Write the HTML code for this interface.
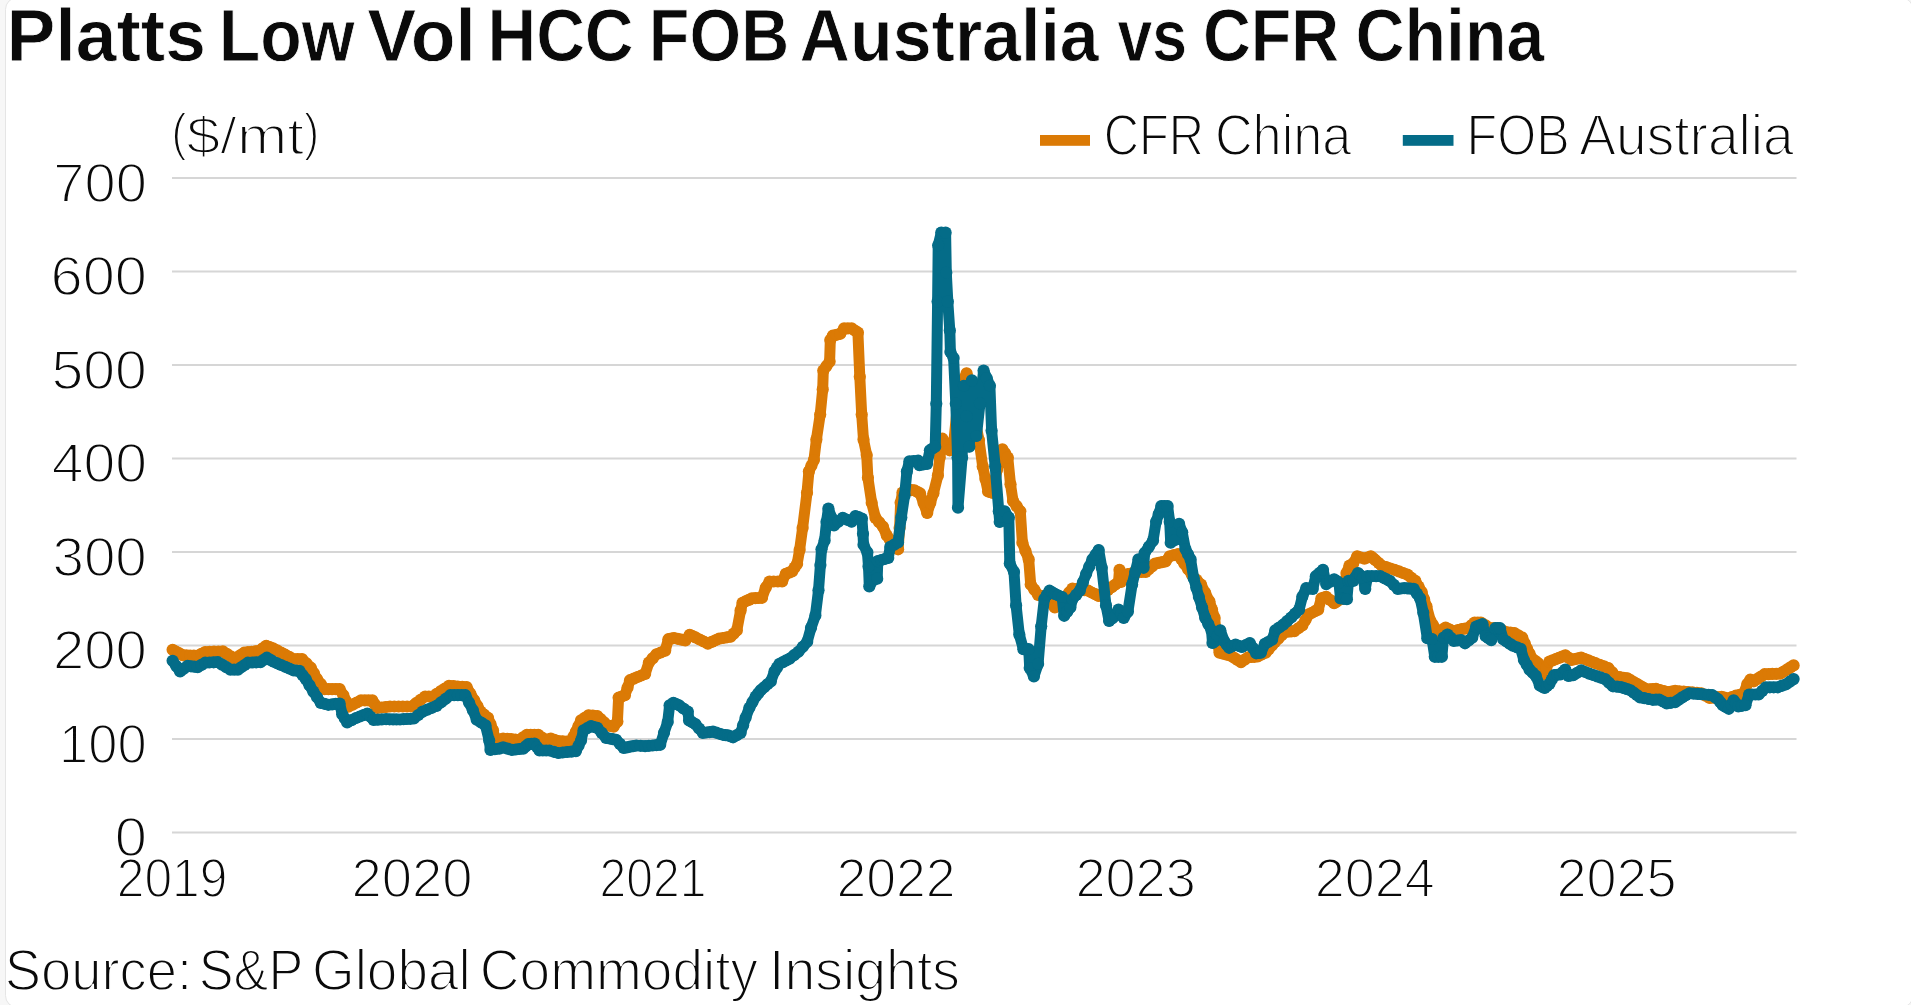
<!DOCTYPE html>
<html lang="en"><head><meta charset="utf-8"><title>Platts Low Vol HCC FOB Australia vs CFR China</title>
<style>
html,body{margin:0;padding:0;background:#fff;overflow:hidden}
svg{display:block}
text{font-family:"Liberation Sans",sans-serif;fill:#0a0a0a;stroke:#fff;paint-order:fill stroke}
text.l{font-weight:400;stroke-width:1.8px}
text.b{font-weight:700;stroke-width:0.8px}
</style></head><body>
<svg width="1911" height="1005" viewBox="0 0 1911 1005">
<rect x="0" y="0" width="1911" height="1005" fill="#f7f7f7"/>
<rect x="5.5" y="-2.5" width="1907.5" height="1010" rx="12" ry="12" fill="#ffffff" stroke="#e5e5e5" stroke-width="1"/>
<line x1="172" x2="1796.5" y1="177.9" y2="177.9" stroke="#d6d6d6" stroke-width="2"/>
<line x1="172" x2="1796.5" y1="271.4" y2="271.4" stroke="#d6d6d6" stroke-width="2"/>
<line x1="172" x2="1796.5" y1="364.9" y2="364.9" stroke="#d6d6d6" stroke-width="2"/>
<line x1="172" x2="1796.5" y1="458.4" y2="458.4" stroke="#d6d6d6" stroke-width="2"/>
<line x1="172" x2="1796.5" y1="551.9" y2="551.9" stroke="#d6d6d6" stroke-width="2"/>
<line x1="172" x2="1796.5" y1="645.4" y2="645.4" stroke="#d6d6d6" stroke-width="2"/>
<line x1="172" x2="1796.5" y1="738.9" y2="738.9" stroke="#d6d6d6" stroke-width="2"/>
<line x1="172" x2="1796.5" y1="832.4" y2="832.4" stroke="#d6d6d6" stroke-width="2"/>
<defs><marker id="mo" markerUnits="userSpaceOnUse" markerWidth="14" markerHeight="14" refX="7" refY="7" viewBox="0 0 14 14"><circle cx="7" cy="7" r="6.1" fill="#DB7A05"/></marker><marker id="mt" markerUnits="userSpaceOnUse" markerWidth="14" markerHeight="14" refX="7" refY="7" viewBox="0 0 14 14"><circle cx="7" cy="7" r="6.1" fill="#046C88"/></marker></defs>
<path d="M172.6,649.8 L175.9,651.6 L179.3,653.4 L182.6,655.2 L186.4,655.4 L190.1,655.5 L193.9,655.6 L197.7,655.8 L201.4,653.9 L205.2,652.0 L209.6,651.9 L214.0,651.7 L218.4,651.5 L222.8,651.4 L226.8,653.9 L230.7,656.4 L234.7,658.9 L237.9,656.8 L241.0,654.8 L244.2,652.7 L247.9,652.2 L251.7,651.8 L255.4,651.3 L259.2,650.8 L262.7,648.3 L266.2,645.8 L269.6,647.0 L273.0,648.3 L277.0,650.4 L281.1,652.6 L285.1,654.7 L289.2,656.9 L293.2,659.0 L297.6,659.0 L302.0,659.0 L306.4,663.4 L310.8,667.7 L313.9,673.4 L317.0,679.0 L320.8,684.0 L324.6,689.1 L328.4,689.1 L332.1,689.1 L335.9,689.1 L339.6,689.1 L343.4,695.4 L345.9,701.0 L348.4,706.7 L352.6,704.6 L356.8,702.5 L361.0,700.4 L364.8,700.4 L368.5,700.4 L372.3,700.4 L374.8,704.2 L377.3,708.0 L381.5,707.5 L385.8,707.0 L390.0,706.5 L394.3,706.5 L398.6,706.5 L402.8,706.5 L407.1,706.5 L411.4,706.5 L416.0,703.2 L420.6,699.8 L425.2,696.5 L428.9,696.5 L432.7,696.5 L436.8,693.8 L440.9,691.1 L444.9,688.5 L449.0,685.8 L453.4,686.1 L457.8,686.5 L462.2,686.8 L466.6,687.1 L470.4,693.7 L474.2,700.3 L477.4,706.0 L480.5,711.6 L484.2,714.7 L488.0,717.8 L490.5,724.1 L493.0,730.4 L495.5,740.5 L499.3,739.5 L503.1,738.6 L507.2,738.9 L511.2,739.2 L515.3,739.5 L519.4,739.8 L523.1,737.3 L526.9,734.8 L530.7,734.8 L534.4,734.8 L538.2,734.8 L542.0,737.6 L545.8,740.5 L548.3,739.5 L550.8,738.6 L554.5,739.9 L558.3,741.1 L562.5,741.3 L566.7,741.5 L570.9,741.7 L573.4,736.7 L575.9,731.7 L578.5,726.0 L581.0,720.4 L584.8,717.8 L588.5,715.3 L592.9,715.6 L597.3,716.0 L600.6,719.1 L604.0,722.3 L607.3,725.4 L610.5,726.0 L613.6,726.6 L617.4,721.6 L618.6,697.7 L621.8,696.5 L624.9,695.2 L627.5,687.7 L630.0,680.2 L633.8,678.6 L637.5,677.0 L641.3,675.5 L645.1,673.9 L648.9,662.5 L652.6,658.4 L656.4,654.3 L660.8,652.5 L665.2,650.6 L668.4,639.2 L671.2,638.6 L674.0,638.0 L677.8,638.8 L681.5,639.7 L685.3,640.5 L689.7,634.8 L692.5,636.1 L695.4,637.4 L699.6,639.5 L703.7,641.5 L707.9,643.6 L711.7,641.9 L715.4,640.3 L719.2,638.6 L723.0,638.0 L726.8,637.3 L730.6,636.7 L733.7,633.6 L736.8,630.5 L740.6,610.4 L742.5,602.8 L745.6,601.3 L748.8,599.9 L751.9,598.4 L755.3,598.2 L758.6,598.0 L762.0,597.8 L765.7,587.7 L769.5,581.5 L773.7,581.5 L777.9,581.5 L782.1,581.5 L785.8,573.9 L789.0,572.6 L792.1,571.4 L794.6,567.6 L797.1,563.9 L799.6,550.1 L802.6,528.0 L807.0,492.8 L808.9,471.4 L811.4,465.8 L813.9,460.1 L816.4,439.6 L820.2,414.5 L822.7,389.4 L823.3,370.5 L826.5,366.1 L829.6,361.7 L830.3,340.1 L832.8,335.7 L836.5,334.8 L840.3,333.8 L844.1,328.4 L847.9,328.4 L851.6,328.4 L854.8,330.5 L857.9,332.6 L859.8,376.8 L861.7,414.5 L863.5,439.6 L866.7,455.1 L867.9,477.7 L871.7,502.8 L875.5,517.9 L879.2,522.3 L883.0,526.7 L886.8,535.5 L890.0,539.9 L893.1,544.3 L895.6,546.8 L898.1,549.3 L899.6,528.0 L900.6,502.8 L902.5,492.5 L905.2,491.2 L908.0,490.0 L911.2,490.1 L914.4,490.3 L917.2,491.8 L920.0,493.3 L923.6,503.1 L927.2,513.0 L930.3,503.1 L933.4,493.3 L937.9,475.4 L939.7,457.5 L942.4,438.7 L946.0,444.5 L949.6,450.3 L954.0,440.0 L957.0,410.0 L961.0,385.0 L963.8,379.1 L966.6,373.3 L970.0,385.0 L972.5,402.5 L975.0,420.0 L979.0,440.0 L982.7,466.4 L985.4,478.9 L988.1,491.5 L990.5,492.2 L993.0,493.0 L997.0,470.0 L999.7,459.7 L1002.4,449.4 L1005.1,453.4 L1007.8,457.5 L1010.5,484.3 L1013.0,500.9 L1016.6,506.1 L1020.3,511.3 L1022.4,542.7 L1025.5,551.0 L1028.7,559.4 L1030.7,584.5 L1034.4,589.7 L1038.1,594.9 L1042.0,596.0 L1046.0,597.0 L1050.4,602.2 L1054.8,607.5 L1058.9,603.8 L1063.0,600.0 L1066.2,596.2 L1069.3,592.4 L1072.5,588.6 L1076.4,589.1 L1080.3,589.7 L1084.3,590.2 L1088.2,590.7 L1091.7,592.5 L1095.2,594.2 L1098.7,596.0 L1101.8,594.0 L1104.9,592.0 L1108.0,590.0 L1111.7,587.2 L1115.4,584.5 L1118.5,582.0 L1119.5,569.8 L1121.0,582.0 L1124.5,578.0 L1127.9,574.0 L1132.5,573.0 L1137.0,572.0 L1141.3,572.0 L1145.7,571.9 L1148.8,569.1 L1152.0,566.4 L1155.1,563.6 L1158.6,562.9 L1162.0,562.2 L1165.5,561.5 L1169.7,556.3 L1173.8,555.2 L1178.0,554.2 L1181.2,558.9 L1184.3,563.6 L1188.2,569.3 L1192.0,575.0 L1196.5,579.8 L1201.0,584.5 L1205.2,592.9 L1209.4,601.2 L1212.0,609.5 L1214.6,617.9 L1216.7,638.8 L1219.5,652.6 L1223.2,653.6 L1227.0,654.7 L1230.7,655.7 L1234.1,657.8 L1237.6,660.0 L1241.0,662.1 L1244.6,659.7 L1248.2,657.3 L1251.4,657.0 L1254.5,656.8 L1257.7,656.5 L1261.7,654.5 L1265.7,652.6 L1268.8,649.1 L1271.9,645.5 L1275.0,642.0 L1278.3,638.6 L1281.5,635.3 L1284.8,631.9 L1288.0,631.6 L1291.2,631.4 L1294.4,631.1 L1298.3,628.3 L1302.3,625.5 L1305.5,620.0 L1308.7,614.4 L1311.9,612.8 L1315.0,611.2 L1318.2,609.6 L1321.4,598.4 L1323.8,597.6 L1326.2,596.8 L1330.2,600.0 L1334.1,603.2 L1336.5,601.6 L1338.9,600.0 L1341.7,596.0 L1344.5,592.0 L1346.5,573.0 L1349.5,565.5 L1353.2,563.4 L1357.2,556.3 L1360.8,557.5 L1364.4,558.6 L1367.6,557.5 L1370.8,556.3 L1373.2,558.2 L1375.5,560.2 L1378.7,563.0 L1381.9,565.8 L1386.1,567.1 L1390.4,568.5 L1394.6,569.8 L1398.9,571.4 L1403.1,573.0 L1407.4,574.6 L1411.3,577.8 L1415.3,580.9 L1418.5,586.5 L1421.7,592.1 L1424.1,599.2 L1426.5,606.4 L1430.4,620.7 L1432.8,624.7 L1435.2,628.7 L1439.2,631.9 L1442.4,629.8 L1445.6,627.6 L1449.8,629.5 L1453.9,631.4 L1457.8,630.2 L1461.8,629.0 L1465.0,628.6 L1468.2,628.2 L1471.4,625.4 L1474.6,622.6 L1477.8,622.6 L1480.9,622.6 L1485.5,625.3 L1490.0,628.0 L1494.0,628.2 L1498.0,628.5 L1502.2,630.4 L1506.4,632.2 L1510.4,632.6 L1514.4,633.0 L1518.3,635.4 L1522.3,637.7 L1524.7,643.3 L1527.1,648.9 L1529.5,653.6 L1531.9,658.4 L1535.1,660.8 L1538.2,663.2 L1540.6,668.8 L1543.0,674.4 L1546.2,668.0 L1549.4,661.6 L1552.6,660.4 L1555.7,659.2 L1558.9,657.9 L1562.1,656.6 L1565.3,655.3 L1568.4,657.6 L1571.6,660.0 L1574.8,659.2 L1578.0,658.4 L1581.2,657.6 L1584.8,659.0 L1588.3,660.4 L1591.9,661.8 L1595.5,663.2 L1599.8,664.8 L1604.0,666.4 L1608.3,668.0 L1612.2,672.4 L1616.2,676.7 L1619.9,677.2 L1623.7,677.8 L1627.4,678.3 L1630.6,680.2 L1633.7,682.0 L1636.9,683.9 L1640.1,685.8 L1643.3,687.6 L1646.5,689.5 L1649.7,689.3 L1652.8,689.1 L1656.0,688.9 L1660.0,690.0 L1663.9,691.0 L1667.9,692.1 L1671.5,691.5 L1675.1,690.9 L1679.4,691.3 L1683.7,691.6 L1688.0,692.0 L1692.4,692.4 L1696.9,692.9 L1701.3,693.3 L1705.5,695.6 L1709.7,698.0 L1713.7,697.6 L1717.6,697.2 L1721.6,696.8 L1724.6,697.7 L1727.6,698.6 L1731.8,697.1 L1735.9,695.6 L1739.7,694.8 L1743.5,694.0 L1747.3,684.0 L1750.3,679.7 L1753.8,681.3 L1757.4,678.9 L1761.0,676.6 L1764.6,674.2 L1768.5,674.1 L1772.3,673.9 L1776.2,673.8 L1780.1,673.6 L1783.7,671.5 L1787.3,669.4 L1790.4,667.4 L1793.6,665.4" fill="none" stroke="#DB7A05" stroke-width="11" stroke-linejoin="round" stroke-linecap="round" marker-start="url(#mo)" marker-mid="url(#mo)" marker-end="url(#mo)"/>
<path d="M172.6,660.8 L176.3,666.1 L180.1,671.5 L183.8,668.7 L187.6,665.9 L191.0,666.3 L194.3,666.7 L197.7,667.1 L201.4,664.9 L205.2,662.7 L209.4,662.5 L213.6,662.3 L217.8,662.1 L222.0,664.6 L226.2,667.1 L230.4,669.6 L234.2,669.6 L237.9,669.6 L241.2,667.3 L244.6,665.0 L247.9,662.7 L252.1,662.5 L256.3,662.3 L260.5,662.1 L263.6,659.9 L266.8,657.7 L270.0,659.6 L273.1,661.5 L277.1,663.3 L281.1,665.0 L285.2,666.8 L289.2,668.5 L293.2,670.3 L296.3,670.6 L299.4,670.9 L302.5,675.0 L305.7,679.0 L309.5,685.3 L313.3,691.6 L317.1,697.2 L320.8,702.9 L324.6,703.8 L328.3,704.8 L332.1,704.4 L335.8,703.9 L339.6,703.5 L342.2,714.2 L344.7,718.3 L347.2,722.4 L351.6,720.2 L356.0,718.0 L359.8,716.5 L363.5,715.1 L367.3,713.6 L370.5,716.8 L373.6,719.9 L377.8,719.7 L381.9,719.4 L386.1,719.2 L389.6,719.3 L393.1,719.4 L396.5,719.4 L400.0,719.5 L403.5,719.2 L406.9,719.0 L410.4,718.8 L413.9,718.5 L418.3,715.0 L422.7,711.6 L427.3,709.7 L431.9,707.8 L436.5,705.9 L441.1,702.3 L445.7,698.8 L450.3,695.2 L454.1,695.2 L457.9,695.2 L461.6,695.2 L465.4,695.2 L469.1,702.8 L472.9,710.3 L476.7,719.7 L481.1,722.5 L485.5,725.4 L489.2,740.5 L490.5,749.9 L494.9,749.2 L499.3,748.6 L503.1,747.4 L507.5,748.6 L511.9,749.9 L515.7,749.5 L519.4,749.0 L523.2,748.6 L525.7,746.4 L528.2,744.2 L531.4,743.9 L534.5,743.6 L537.0,747.0 L539.5,750.5 L542.8,750.5 L546.2,750.5 L549.5,750.5 L553.9,751.8 L558.3,753.0 L562.7,752.5 L567.1,752.0 L571.5,751.6 L575.9,751.1 L578.5,745.8 L581.0,740.5 L583.5,730.4 L587.2,728.2 L591.0,726.0 L594.1,727.0 L597.3,727.9 L601.7,732.9 L606.1,737.9 L609.4,738.5 L612.8,739.2 L616.1,739.8 L619.9,743.9 L623.7,748.0 L626.9,747.4 L630.0,746.7 L633.1,746.1 L636.3,745.5 L640.7,745.8 L645.1,746.1 L648.9,745.8 L652.7,745.5 L656.4,745.1 L660.2,744.8 L664.0,732.9 L667.7,722.0 L669.6,705.3 L673.4,702.8 L676.2,704.0 L679.0,705.3 L683.4,708.5 L687.8,711.6 L689.1,720.4 L692.2,722.2 L695.4,724.1 L699.1,728.5 L702.9,732.9 L706.3,732.5 L709.6,732.1 L713.0,731.7 L716.3,732.7 L719.7,733.8 L723.0,734.8 L725.5,735.1 L728.0,735.4 L730.5,736.3 L733.1,737.3 L736.9,735.1 L740.6,732.9 L743.1,725.3 L745.6,717.8 L749.4,707.8 L752.5,702.1 L755.7,696.5 L758.2,693.4 L760.7,690.2 L764.1,687.3 L767.4,684.3 L770.8,681.4 L774.5,671.4 L777.0,667.6 L779.5,663.8 L782.9,662.1 L786.2,660.4 L789.6,658.7 L794.0,655.2 L798.4,651.8 L802.8,646.8 L807.2,641.8 L811.0,627.9 L815.4,615.4 L818.5,590.3 L820.4,565.1 L821.5,549.3 L824.6,540.5 L826.5,521.7 L828.4,508.5 L831.2,517.0 L834.0,525.4 L838.4,521.6 L842.8,517.9 L847.2,519.8 L851.6,521.7 L855.4,516.0 L858.6,517.2 L861.9,518.5 L863.0,533.8 L863.5,544.7 L867.4,552.4 L868.5,566.6 L869.3,586.5 L872.8,580.5 L877.2,578.7 L877.8,561.1 L881.3,560.0 L884.7,559.0 L888.2,557.9 L890.3,546.9 L894.1,544.7 L898.0,542.5 L901.3,517.4 L904.6,495.5 L906.9,471.4 L909.4,461.4 L913.8,461.0 L918.2,460.7 L919.4,465.1 L923.2,464.5 L927.0,463.9 L929.9,450.3 L932.5,448.5 L935.2,446.7 L936.3,403.7 L937.6,301.6 L938.2,245.3 L941.3,232.6 L945.6,232.6 L946.3,272.7 L947.8,301.6 L949.8,330.4 L950.4,352.0 L953.6,358.0 L955.8,403.7 L957.6,457.5 L958.0,507.6 L962.1,457.5 L963.9,385.8 L966.6,416.2 L969.3,446.7 L971.9,380.4 L976.4,436.0 L980.0,403.3 L983.6,370.6 L986.8,378.2 L989.9,385.8 L991.6,430.6 L995.2,466.4 L998.8,511.2 L999.7,522.0 L1002.2,516.6 L1004.6,511.3 L1008.8,517.6 L1009.8,563.6 L1014.0,571.9 L1016.1,605.4 L1019.3,634.6 L1023.4,649.2 L1026.0,649.2 L1028.7,649.2 L1029.7,668.0 L1033.9,676.4 L1038.1,663.9 L1041.2,626.3 L1044.3,599.1 L1046.9,594.9 L1049.5,590.7 L1052.2,592.3 L1054.8,593.9 L1058.4,595.5 L1062.1,597.0 L1064.2,615.8 L1067.3,611.6 L1070.4,607.5 L1072.5,599.1 L1076.2,594.9 L1079.8,590.7 L1082.9,582.4 L1086.1,574.0 L1089.2,566.7 L1092.4,559.4 L1095.6,554.7 L1098.7,550.0 L1101.8,567.8 L1106.0,605.4 L1109.1,621.0 L1112.2,618.4 L1115.4,615.8 L1118.5,609.5 L1121.1,613.7 L1123.7,617.9 L1127.9,611.6 L1132.1,584.5 L1135.2,572.0 L1138.4,559.4 L1141.0,563.6 L1143.6,567.8 L1144.6,553.1 L1148.8,546.9 L1153.0,540.6 L1156.1,521.8 L1158.7,514.0 L1161.3,506.1 L1164.4,506.1 L1167.6,506.1 L1169.7,521.8 L1170.7,542.7 L1175.0,540.0 L1179.1,523.9 L1182.2,532.2 L1185.4,549.0 L1188.0,554.2 L1190.6,559.4 L1193.7,578.2 L1196.3,587.6 L1198.9,597.0 L1202.1,607.5 L1205.2,617.9 L1208.3,624.1 L1211.5,630.4 L1212.5,643.0 L1214.8,641.4 L1217.5,635.8 L1220.3,630.3 L1224.3,641.4 L1226.7,644.6 L1229.1,647.8 L1232.3,646.2 L1235.5,644.6 L1238.7,645.8 L1241.8,647.0 L1245.8,645.0 L1249.8,643.0 L1253.0,648.1 L1256.2,653.3 L1258.6,653.0 L1260.9,652.6 L1264.9,643.8 L1268.5,641.8 L1272.1,639.8 L1275.3,630.3 L1279.2,627.5 L1283.2,624.7 L1287.2,621.1 L1291.2,617.5 L1295.2,613.5 L1299.1,609.6 L1302.3,596.8 L1306.3,588.1 L1309.5,588.5 L1312.7,588.9 L1315.8,576.2 L1319.4,573.0 L1323.0,569.8 L1326.2,584.1 L1330.2,581.7 L1334.1,579.3 L1336.5,580.9 L1338.9,582.5 L1340.5,598.4 L1343.7,598.8 L1346.9,599.2 L1348.5,580.9 L1350.8,580.9 L1353.2,580.9 L1355.6,577.0 L1358.0,573.0 L1360.4,575.4 L1362.8,577.7 L1365.2,588.9 L1367.6,576.2 L1371.8,576.2 L1376.1,576.2 L1380.3,576.2 L1383.5,577.8 L1386.6,579.3 L1389.8,580.9 L1393.8,584.9 L1397.8,588.9 L1401.0,588.5 L1404.2,588.1 L1407.4,588.4 L1410.5,588.6 L1413.7,588.9 L1416.9,593.6 L1420.1,598.4 L1423.3,612.8 L1427.3,638.2 L1429.7,638.6 L1432.0,639.0 L1434.8,656.8 L1438.3,656.8 L1441.9,656.8 L1443.5,637.7 L1447.5,634.6 L1450.7,637.8 L1453.9,640.9 L1457.5,640.5 L1461.0,640.1 L1465.0,643.3 L1468.6,640.5 L1472.2,637.7 L1476.2,626.6 L1479.3,625.4 L1482.5,624.2 L1485.7,636.2 L1488.5,638.2 L1491.3,640.1 L1495.3,628.2 L1497.7,628.2 L1500.0,628.2 L1503.2,639.3 L1506.4,641.4 L1509.6,643.6 L1512.8,645.7 L1516.8,647.3 L1520.7,648.9 L1523.9,660.0 L1526.7,664.8 L1529.5,669.6 L1532.7,672.8 L1535.8,675.9 L1539.8,685.5 L1542.2,686.7 L1544.6,687.9 L1547.0,685.9 L1549.4,683.9 L1551.8,679.5 L1554.1,675.2 L1557.3,674.8 L1560.5,674.4 L1562.9,672.0 L1565.3,669.6 L1568.5,675.9 L1570.8,675.5 L1573.2,675.2 L1577.2,672.8 L1581.2,670.4 L1585.2,672.0 L1589.2,673.6 L1593.2,675.0 L1597.2,676.4 L1601.1,677.7 L1605.1,679.1 L1609.0,682.7 L1613.0,686.3 L1617.0,686.7 L1621.0,687.1 L1624.2,688.2 L1627.3,689.2 L1630.5,690.3 L1633.7,692.7 L1636.9,695.0 L1640.1,697.4 L1644.3,698.2 L1648.6,699.0 L1652.8,699.8 L1656.0,699.6 L1659.2,699.5 L1663.0,701.5 L1666.7,703.4 L1670.9,702.8 L1675.1,702.2 L1678.7,699.8 L1682.2,697.4 L1685.8,695.3 L1689.4,693.3 L1693.6,693.6 L1697.7,693.9 L1701.3,694.2 L1704.9,694.5 L1708.5,694.8 L1712.1,695.1 L1715.0,697.2 L1718.0,699.2 L1720.4,702.2 L1722.8,705.2 L1725.8,707.0 L1728.8,708.8 L1731.2,704.6 L1733.6,700.4 L1735.9,703.4 L1738.3,706.4 L1741.9,705.8 L1745.5,705.2 L1749.1,694.5 L1752.3,694.5 L1755.4,694.5 L1758.6,694.5 L1762.2,690.9 L1765.8,687.3 L1769.8,687.3 L1773.7,687.3 L1777.7,687.3 L1781.9,685.8 L1786.1,684.3 L1789.8,681.7 L1793.6,679.1" fill="none" stroke="#046C88" stroke-width="11" stroke-linejoin="round" stroke-linecap="round" marker-start="url(#mt)" marker-mid="url(#mt)" marker-end="url(#mt)"/>
<rect x="1040" y="135" width="50" height="10.8" fill="#DB7A05"/>
<rect x="1402.8" y="135" width="50.7" height="10.8" fill="#046C88"/>
<g id="title"><text class="b" transform="translate(6.57,61.05) scale(0.9963,1)" font-size="73.5">Platts</text>
<text class="b" transform="translate(218.85,61.05) scale(0.9246,1)" font-size="73.5">Low</text>
<text class="b" transform="translate(367.15,61.05) scale(0.9985,1)" font-size="73.5">Vol</text>
<text class="b" transform="translate(487.49,61.05) scale(0.9170,1)" font-size="73.5">HCC</text>
<text class="b" transform="translate(648.85,61.05) scale(0.9046,1)" font-size="73.5">FOB</text>
<text class="b" transform="translate(799.52,61.05) scale(0.9515,1)" font-size="73.5">Australia</text>
<text class="b" transform="translate(1117.55,61.05) scale(0.8516,1)" font-size="73.5">vs</text>
<text class="b" transform="translate(1202.97,61.05) scale(0.9017,1)" font-size="73.5">CFR</text>
<text class="b" transform="translate(1355.50,61.05) scale(0.9244,1)" font-size="73.5">China</text></g>
<g id="unit"><text class="l" transform="translate(171.34,149.50) scale(0.8889,1)" font-size="52.5">(</text><text class="l" transform="translate(186.48,154.30) scale(1.1516,1)" font-size="52.5">$/mt</text><text class="l" transform="translate(303.68,149.50) scale(0.8978,1)" font-size="52.5">)</text></g>
<g id="yaxis"><text class="l" transform="translate(53.34,201.65) scale(1.0023,1)" font-size="55.9">700</text>
<text class="l" transform="translate(50.52,295.15) scale(1.0335,1)" font-size="55.9">600</text>
<text class="l" transform="translate(51.52,388.65) scale(1.0225,1)" font-size="55.9">500</text>
<text class="l" transform="translate(51.66,482.15) scale(1.0210,1)" font-size="55.9">400</text>
<text class="l" transform="translate(52.41,575.65) scale(1.0126,1)" font-size="55.9">300</text>
<text class="l" transform="translate(52.98,669.15) scale(1.0063,1)" font-size="55.9">200</text>
<text class="l" transform="translate(59.11,762.65) scale(0.9384,1)" font-size="55.9">100</text>
<text class="l" transform="translate(114.79,856.15) scale(1.0360,1)" font-size="55.9">0</text></g>
<g id="xaxis"><text class="l" transform="translate(116.79,896.85) scale(0.8894,1)" font-size="55.9">2019</text>
<text class="l" transform="translate(351.60,896.85) scale(0.9724,1)" font-size="55.9">2020</text>
<text class="l" transform="translate(599.59,896.85) scale(0.8588,1)" font-size="55.9">2021</text>
<text class="l" transform="translate(836.45,896.85) scale(0.9578,1)" font-size="55.9">2022</text>
<text class="l" transform="translate(1075.41,896.85) scale(0.9685,1)" font-size="55.9">2023</text>
<text class="l" transform="translate(1314.72,896.85) scale(0.9646,1)" font-size="55.9">2024</text>
<text class="l" transform="translate(1556.42,896.85) scale(0.9665,1)" font-size="55.9">2025</text></g>
<g id="legend"><text class="l" transform="translate(1103.69,154.60) scale(0.8549,1)" font-size="57.2">CFR</text>
<text class="l" transform="translate(1214.88,154.60) scale(0.9133,1)" font-size="57.2">China</text>
<text class="l" transform="translate(1466.58,154.60) scale(0.8767,1)" font-size="57.2">FOB</text>
<text class="l" transform="translate(1579.35,154.60) scale(0.9635,1)" font-size="57.2">Australia</text></g>
<g id="source"><text class="l" transform="translate(4.63,989.50) scale(0.9511,1)" font-size="57.2">Source:</text>
<text class="l" transform="translate(198.77,989.50) scale(0.9133,1)" font-size="57.2">S&amp;P</text>
<text class="l" transform="translate(311.90,989.50) scale(0.9611,1)" font-size="57.2">Global</text>
<text class="l" transform="translate(479.79,989.50) scale(0.9623,1)" font-size="57.2">Commodity</text>
<text class="l" transform="translate(769.09,989.50) scale(0.9689,1)" font-size="57.2">Insights</text></g>
</svg>
</body></html>
